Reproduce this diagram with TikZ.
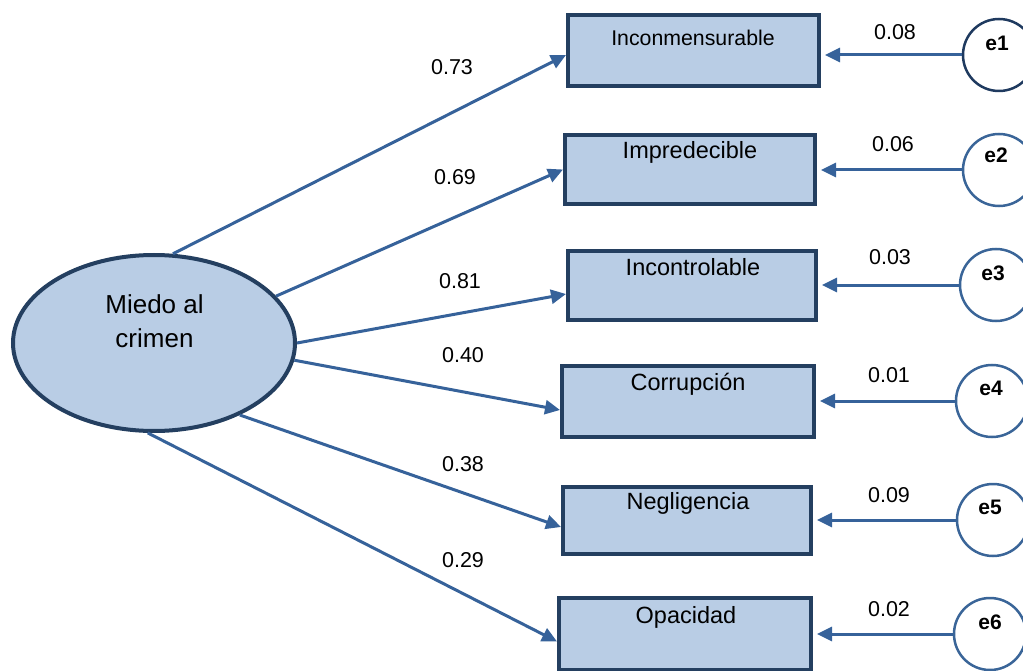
\documentclass[tikz,border=0pt]{standalone}
\usepackage{fontspec}
\setmainfont{Liberation Sans}
\usetikzlibrary{arrows.meta,shapes.geometric,calc}
\definecolor{boxfill}{HTML}{B9CDE5}
\definecolor{boxline}{HTML}{243F60}
\definecolor{arrcol}{HTML}{36629A}
\definecolor{circcol}{HTML}{3A6598}
\definecolor{circdark}{HTML}{1F3A5F}
\tikzset{
  obsbox/.style={draw=boxline, fill=boxfill, line width=4pt, rectangle, inner sep=0pt},
  latent/.style={draw=boxline, fill=boxfill, line width=4pt, ellipse, inner sep=0pt, minimum width=282pt, minimum height=176pt},
  errc/.style={draw=circcol, fill=white, line width=2.5pt, circle, inner sep=0pt, minimum size=72pt},
  boxtxt/.style={anchor=base, inner sep=0pt, font=\fontsize{23.5}{27}\selectfont},
  numtxt/.style={anchor=base, inner sep=0pt, font=\fontsize{21.5}{24}\selectfont},
  etxt/.style={anchor=base, inner sep=0pt, font=\fontsize{21}{24}\selectfont\bfseries},
  arr/.style={draw=arrcol, line width=3pt, -{Triangle[length=15pt,width=14pt]}}
}
\begin{document}
\begin{tikzpicture}[x=1pt,y=-1pt]
\useasboundingbox (0,0) rectangle (1023,671);
% latent variable
\node[latent] (lv) at (154,343) {};
\node[inner sep=0pt, anchor=base, font=\fontsize{26}{30}\selectfont] (lvt1) at (154.5,313) {Miedo al};
\node[inner sep=0pt, anchor=base, font=\fontsize{26}{30}\selectfont] (lvt2) at (154.5,347) {crimen};
% observed boxes
\node[obsbox, minimum width=251pt, minimum height=71pt] (b1) at (693.5,50.5) {};
\node[obsbox, minimum width=250pt, minimum height=69pt] (b2) at (690,169.5) {};
\node[obsbox, minimum width=248pt, minimum height=69pt] (b3) at (692,285.5) {};
\node[obsbox, minimum width=252pt, minimum height=71pt] (b4) at (688,401.5) {};
\node[obsbox, minimum width=248pt, minimum height=67pt] (b5) at (687,520.5) {};
\node[obsbox, minimum width=252pt, minimum height=72pt] (b6) at (685,634) {};
\node[boxtxt, font=\fontsize{21.3}{24}\selectfont] (t1) at (693,46) {Inconmensurable};
\node[boxtxt] (t2) at (690,159) {Impredecible};
\node[boxtxt] (t3) at (693,276) {Incontrolable};
\node[boxtxt] (t4) at (688,390) {Corrupción};
\node[boxtxt] (t5) at (688,509) {Negligencia};
\node[boxtxt] (t6) at (686,623) {Opacidad};
% error circles
\node[errc, draw=circdark] (e1) at (999,55) {};
\node[errc] (e2) at (999,170) {};
\node[errc] (e3) at (996,285) {};
\node[errc] (e4) at (992,401) {};
\node[errc] (e5) at (993,520) {};
\node[errc] (e6) at (990,634) {};
\node[etxt] (el1) at (997,51) {e1};
\node[etxt] (el2) at (996,163) {e2};
\node[etxt] (el3) at (993,280) {e3};
\node[etxt] (el4) at (991,395) {e4};
\node[etxt] (el5) at (990,514) {e5};
\node[etxt] (el6) at (990,629) {e6};
% loadings
\draw[arr] (lv.78) -- ([yshift=-4.5pt]b1.west);
\draw[arr] (lv.21) -- ([yshift=0pt]b2.west);
\draw[arr] (lv.-0.5) -- ([yshift=-8.5pt]b3.west);
\draw[arr] (lv.-7.5) -- ([yshift=-8.5pt]b4.west);
\draw[arr] (lv.-40) -- ([yshift=-6.5pt]b5.west);
\draw[arr] (lv.-94.5) -- ([yshift=-7.5pt]b6.west);
\node[numtxt] (l1) at (452,75) {0.73};
\node[numtxt] (l2) at (455,185) {0.69};
\node[numtxt] (l3) at (460,288) {0.81};
\node[numtxt] (l4) at (463,362) {0.40};
\node[numtxt] (l5) at (463,471) {0.38};
\node[numtxt] (l6) at (463,567) {0.29};
% error arrows
\draw[arr] (e1.west) -- ([xshift=4pt]b1.east |- e1.west);
\draw[arr] (e2.west) -- ([xshift=4pt]b2.east |- e2.west);
\draw[arr] (e3.west) -- ([xshift=4pt]b3.east |- e3.west);
\draw[arr] (e4.west) -- ([xshift=4pt]b4.east |- e4.west);
\draw[arr] (e5.west) -- ([xshift=4pt]b5.east |- e5.west);
\draw[arr] (e6.west) -- ([xshift=4pt]b6.east |- e6.west);
\node[numtxt] (n1) at (895,40) {0.08};
\node[numtxt] (n2) at (893,152) {0.06};
\node[numtxt] (n3) at (890,265) {0.03};
\node[numtxt] (n4) at (889,382) {0.01};
\node[numtxt] (n5) at (889,502) {0.09};
\node[numtxt] (n6) at (889,616) {0.02};
\end{tikzpicture}
\end{document}
